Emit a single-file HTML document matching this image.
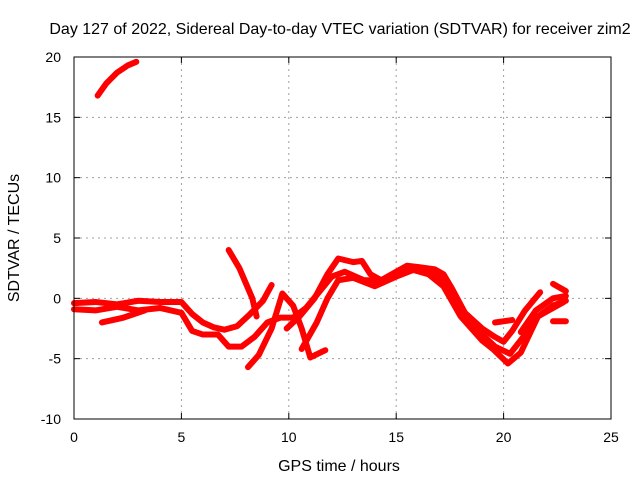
<!DOCTYPE html>
<html><head><meta charset="utf-8"><style>
body{margin:0;background:#fff;}
svg text{font-family:"Liberation Sans",sans-serif;font-size:14px;fill:#000;}
svg text.big{font-size:16px;}
</style></head><body>
<svg id="chart" width="640" height="480" xmlns="http://www.w3.org/2000/svg">
<rect width="640" height="480" fill="#fff"/>
<text class="big" x="340" y="34" text-anchor="middle">Day 127 of 2022, Sidereal Day-to-day VTEC variation (SDTVAR) for receiver zim2</text>
<text class="big" x="339" y="471" text-anchor="middle">GPS time / hours</text>
<text class="big" transform="translate(19,238) rotate(-90)" text-anchor="middle">SDTVAR / TECUs</text>
<g id="grid"></g><g id="series"></g><g id="axes"></g>
</svg>
<script>
const xTicks=[0,5,10,15,20,25];
const yTicks=[-10,-5,0,5,10,15,20];
const s1=[[1.1,16.8],[1.5,17.8],[2,18.7],[2.5,19.3],[2.9,19.6]];
const s2=[[0,-0.4],[1,-0.3],[2,-0.5],[3,-0.2],[4,-0.3],[5,-0.3],[5.5,-1.3],[6,-2],[6.5,-2.4],[7,-2.6],[7.6,-2.3],[8.2,-1.3],[8.8,-0.2],[9.2,1.1]];
const s3=[[0,-0.9],[1,-1],[2,-0.7],[3,-1],[4,-0.8],[5,-1.2],[5.5,-2.7],[6,-3],[6.7,-3],[7.2,-4],[7.8,-4],[8.4,-3.2],[9,-2],[9.6,-1.6],[10.2,-1.6],[10.8,-0.8],[11.4,0.5],[12,1.8],[12.6,2.2],[13.5,1.5],[14.5,1.5],[15.5,2.5],[16.5,2],[17.2,1],[18,-1.5],[19,-3.5],[19.5,-4.2],[20.2,-5.4],[20.8,-4.5],[21.6,-1.5],[22.8,-0.3]];
const s4=[[8.1,-5.7],[8.6,-4.7],[9.2,-2.5],[9.7,0.4],[10.2,-0.6],[10.6,-2.5],[11,-4.9],[11.7,-4.3]];
const s5=[[7.2,4.0],[7.7,2.5],[8.3,0],[8.5,-1.5]];
const s6=[[1.3,-2],[2.3,-1.6],[3.3,-1.0]];
const s7=[[9.9,-2.5],[10.5,-1.5],[11.2,0],[11.8,2],[12.3,3.3],[13,3],[13.4,3.1],[13.8,2],[14.3,1.5],[15,2.2],[15.5,2.7],[16,2.6],[16.8,2.4],[17.2,2],[17.6,0.8],[18.2,-1.2],[19,-2.5],[19.6,-3.2],[20,-3.6],[20.4,-2.7],[21,-1],[21.7,0.5]];
const s8=[[10.6,-4.2],[11.3,-2],[11.8,0],[12.3,1.5],[13,1.7],[14,1],[15,1.8],[16,2.5],[17,1.7],[17.6,0.2],[18.3,-1.8],[19,-3],[19.6,-4],[20.3,-4.6],[21,-3],[21.6,-1.5],[22.3,-0.6],[22.9,-0.2]];
const s9=[[20.8,-2.8],[21.5,-1],[22.3,0],[22.9,0.2]];
const s10=[[22.3,1.2],[22.9,0.6]];
const s11=[[22.3,-1.9],[22.9,-1.9]];
const s12=[[19.6,-2],[20.4,-1.8]];
const allSeries=[s1,s2,s3,s4,s5,s6,s7,s8,s9,s10,s11,s12];
const X0=74,X1=611,Y0=419,Y1=57,xmin=0,xmax=25,ymin=-10,ymax=20;
const xs=v=>X0+(v-xmin)/(xmax-xmin)*(X1-X0);
const ys=v=>Y0-(v-ymin)/(ymax-ymin)*(Y0-Y1);
const NS="http://www.w3.org/2000/svg";
const mk=(p,t,a)=>{const e=document.createElementNS(NS,t);for(const k in a)e.setAttribute(k,a[k]);p.appendChild(e);return e;};
const grid=document.getElementById('grid'),axes=document.getElementById('axes'),ser=document.getElementById('series');
xTicks.forEach(t=>{const x=xs(t);
 if(t>xmin&&t<xmax){const g=mk(grid,'line',{x1:x,x2:x,y1:Y0,y2:Y1,stroke:'#a0a0a0','stroke-dasharray':'2,4'});
 
 }
 const tk=mk(axes,'line',{x1:x,x2:x,y1:Y0,y2:Y0-6,stroke:'#000'});
 
 
 const tk2=mk(axes,'line',{x1:x,x2:x,y1:Y1,y2:Y1+6,stroke:'#000'});
 
 
 const l=mk(axes,'text',{x:x,y:Y0+23,'text-anchor':'middle'});l.textContent=t;
 
 });
yTicks.forEach(t=>{const y=ys(t);
 if(t>ymin&&t<ymax){const g=mk(grid,'line',{x1:X0,x2:X1,y1:y,y2:y,stroke:'#a0a0a0','stroke-dasharray':'2,4'});
 
 }
 const tk=mk(axes,'line',{x1:X0,x2:X0+6,y1:y,y2:y,stroke:'#000'});
 
 
 const tk2=mk(axes,'line',{x1:X1,x2:X1-6,y1:y,y2:y,stroke:'#000'});
 
 
 const l=mk(axes,'text',{x:X0-13,y:y+5,'text-anchor':'end'});l.textContent=t;
 
 });
const fr=mk(axes,'rect',{x:X0,y:Y1,width:X1-X0,height:Y0-Y1,fill:'none',stroke:'#000'});


allSeries.forEach(s=>{const p=mk(ser,'polyline',{points:s.map(d=>xs(d[0])+','+ys(d[1])).join(' '),fill:'none',stroke:'#ff0000','stroke-width':6,'stroke-linejoin':'round','stroke-linecap':'round'});
 
 });
</script>
</body></html>
